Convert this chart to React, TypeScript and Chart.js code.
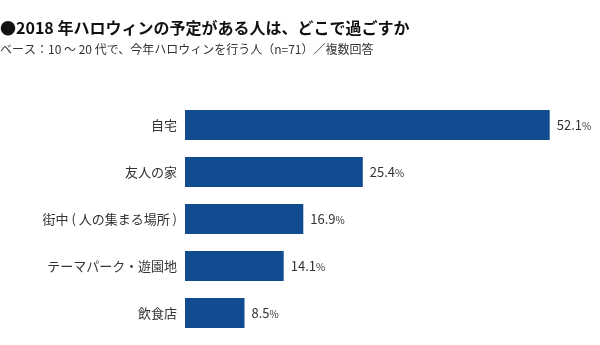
import React, { useEffect, useRef } from "react";
import { Chart, registerables } from "chart.js";

Chart.register(...registerables);

const titleText = "●2018 年ハロウィンの予定がある人は、どこで過ごすか";
const subtitleText = "ベース：10 ～ 20 代で、今年ハロウィンを行う人（n=71）／複数回答";
const categories = ["自宅", "友人の家", "街中 ( 人の集まる場所 )", "テーマパーク・遊園地", "飲食店"];
const values = [52.1, 25.4, 16.9, 14.1, 8.5];

const FONT = '"Noto Sans CJK JP", "Noto Sans", sans-serif';

const valueLabels = {
  id: "valueLabels",
  afterDatasetsDraw(chart: any) {
    const ctx = chart.ctx;
    const meta = chart.getDatasetMeta(0);
    ctx.save();
    ctx.fillStyle = "#333333";
    ctx.textBaseline = "middle";
    ctx.textAlign = "left";
    meta.data.forEach((bar: any, i: number) => {
      const num = values[i].toFixed(1);
      const x = bar.x + 7;
      const y = bar.y;
      ctx.font = `13px ${FONT}`;
      ctx.fillText(num, x, y);
      const w = ctx.measureText(num).width;
      ctx.font = `10px ${FONT}`;
      ctx.fillText("%", x + w, y + 1);
    });
    ctx.restore();
  },
};

export default function App() {
  const ref = useRef<HTMLCanvasElement | null>(null);
  useEffect(() => {
    document.body.style.margin = "0";
    const chart = new Chart(ref.current!, {
      type: "bar",
      data: {
        labels: categories,
        datasets: [
          {
            data: values,
            backgroundColor: "#104c8f",
            borderWidth: 0,
            barPercentage: 0.64,
            categoryPercentage: 1,
          },
        ],
      },
      options: {
        indexAxis: "y",
        animation: false,
        responsive: false,
        layout: { padding: { top: 0, left: 0, right: 30, bottom: 8.5 } },
        plugins: {
          legend: { display: false },
          tooltip: { enabled: false },
          title: {
            display: true,
            text: titleText,
            align: "start",
            color: "#111111",
            font: { family: FONT, size: 16, weight: "bold", lineHeight: 1.2 },
            padding: { top: 18, bottom: 2 },
          },
          subtitle: {
            display: true,
            text: subtitleText,
            align: "start",
            color: "#333333",
            font: { family: FONT, size: 12, lineHeight: 1.2 },
            padding: { top: 3, bottom: 45 },
          },
        },
        scales: {
          x: { display: false, min: 0, max: 55 },
          y: {
            grid: { display: false, drawTicks: false },
            border: { display: false },
            ticks: { padding: 8, color: "#333333", font: { family: FONT, size: 13 } },
            afterFit(scale: any) {
              scale.width = 185;
              scale.paddingTop = 0;
              scale.paddingBottom = 0;
            },
          },
        },
      },
      plugins: [valueLabels],
    });
    return () => chart.destroy();
  }, []);
  return (
    <div style={{ position: "absolute", left: 0, top: 0, width: 600, height: 345 }}>
      <canvas ref={ref} width={600} height={345} />
    </div>
  );
}
